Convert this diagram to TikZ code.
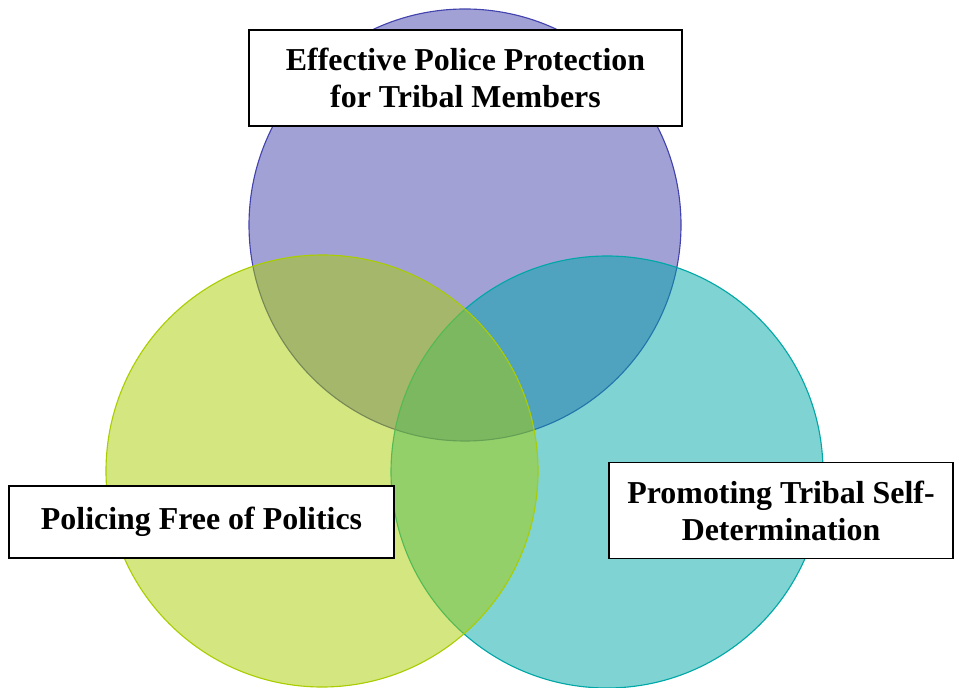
\documentclass[tikz,border=0pt]{standalone}
\usepackage{fontspec}
\setmainfont{Liberation Serif}
\definecolor{protblue}{RGB}{67,67,173}
\definecolor{polgreen}{RGB}{169,205,1}
\definecolor{selfteal}{RGB}{0,167,167}
\begin{document}
\begin{tikzpicture}[
    venn/.style={circle, minimum size=10.8cm, draw=#1, fill=#1, fill opacity=0.5, line width=0.8pt},
    label box/.style={draw=black, fill=white, line width=1.2pt, align=center,
        font=\bfseries\fontsize{22.7}{26.3}\selectfont}
    ]
            \useasboundingbox (0,0) rectangle (24,17.175);
            %Circles
            \node[venn=protblue] at (11.625,11.55) (protect) {};
            \node[venn=selfteal] at (15.175,5.375) (selfdet) {};
            \node[venn=polgreen] at (8.05,5.4)     (free)    {};

            %Labels
            \node[label box, minimum width=10.825cm, minimum height=2.4cm] at (11.6375,15.225) (protectlbl)
                {Effective Police Protection\\for Tribal Members};
            \node[label box, minimum width=9.625cm, minimum height=1.8cm] at (5.0375,4.125) (freelbl)
                {Policing Free of Politics};
            \node[label box, minimum width=8.6cm, minimum height=2.4cm] at (19.525,4.4125) (selfdetlbl)
                {Promoting Tribal Self-\\Determination};
        \end{tikzpicture}
\end{document}
